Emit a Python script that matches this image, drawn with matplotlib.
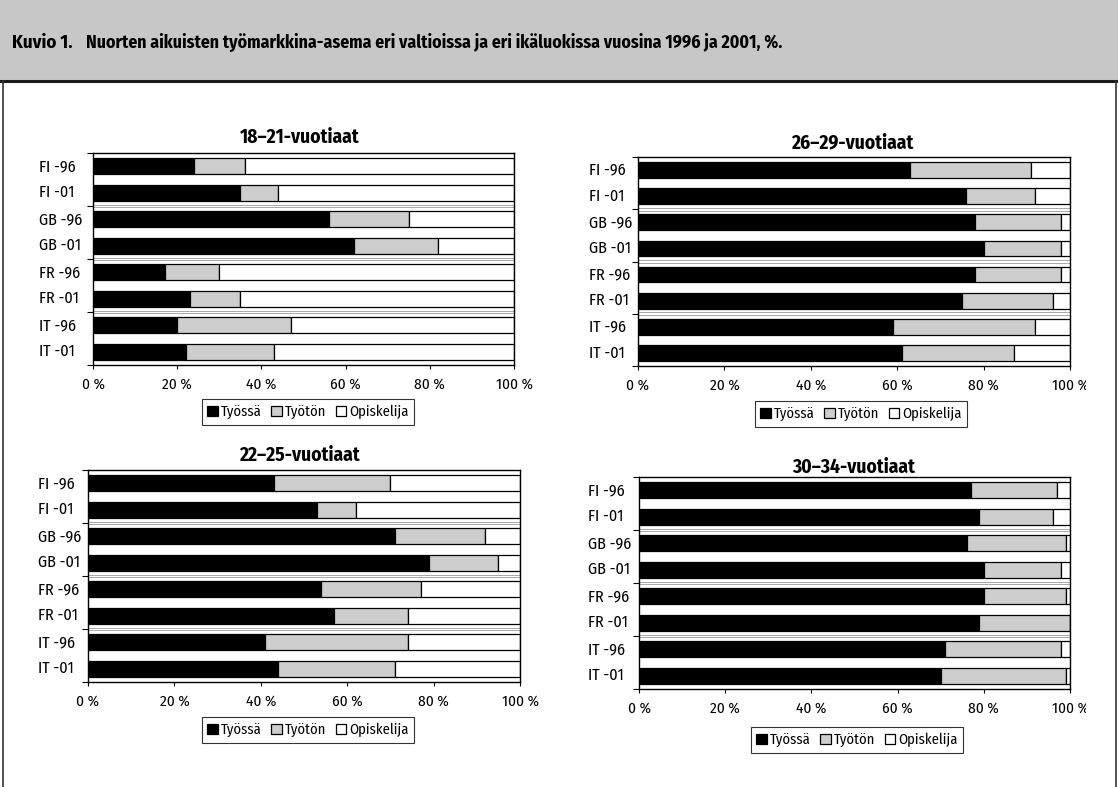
import matplotlib
matplotlib.use("Agg")
import matplotlib.pyplot as plt
from matplotlib import transforms
from matplotlib.patches import Rectangle
from matplotlib.lines import Line2D
from matplotlib.transforms import Bbox, TransformedBbox

plt.rcParams["font.family"] = ["Fira Sans Condensed", "DejaVu Sans"]

W, H = 1118, 787

rivit = ["FI -96", "FI -01", "GB -96", "GB -01", "FR -96", "FR -01", "IT -96", "IT -01"]
sarjat = ["Työssä", "Työtön", "Opiskelija"]
xtiks = [0, 20, 40, 60, 80, 100]
xtik_tekstit = ["0 %", "20 %", "40 %", "60 %", "80 %", "100 %"]

# 18-21-vuotiaat
tyossa_18_21 = [24, 35, 56, 62, 17, 23, 20, 22]
tyoton_18_21 = [12, 9, 19, 20, 13, 12, 27, 21]
opisk_18_21 = [64, 56, 25, 18, 70, 65, 53, 57]

# 22-25-vuotiaat
tyossa_22_25 = [43, 53, 71, 79, 54, 57, 41, 44]
tyoton_22_25 = [27, 9, 21, 16, 23, 17, 33, 27]
opisk_22_25 = [30, 38, 8, 5, 23, 26, 26, 29]

# 26-29-vuotiaat
tyossa_26_29 = [63, 76, 78, 80, 78, 75, 59, 61]
tyoton_26_29 = [28, 16, 20, 18, 20, 21, 33, 26]
opisk_26_29 = [9, 8, 2, 2, 2, 4, 8, 13]

# 30-34-vuotiaat
tyossa_30_34 = [77, 79, 76, 80, 80, 79, 71, 70]
tyoton_30_34 = [20, 17, 23, 18, 19, 21, 27, 29]
opisk_30_34 = [3, 4, 1, 2, 1, 0, 2, 1]

varit = ["black", "#cdcdcd", "white"]

fig = plt.figure(figsize=(W / 100, H / 100), dpi=100)


def px(x, y):
    # pikselit -> kuvan koordinaatit
    return x / W, 1 - y / H


# otsikkopalkki
fig.patches.append(Rectangle(px(0, 80), 1, 80 / H, transform=fig.transFigure,
                             facecolor="#c7c7c7", edgecolor="none", zorder=0))
fig.lines.append(Line2D([0, 1], [1 - 80.5 / H] * 2, transform=fig.transFigure,
                        color="#1a1a1a", lw=2.2))
fig.lines.append(Line2D([2.5 / W] * 2, [0, 1 - 81 / H], transform=fig.transFigure,
                        color="#333333", lw=1.2))
fig.lines.append(Line2D([1115.5 / W] * 2, [0, 1 - 81 / H], transform=fig.transFigure,
                        color="#333333", lw=1.2))
fig.text(*px(12, 43), "Kuvio 1.", fontsize=13.5, fontweight="bold", va="center")
fig.text(*px(86, 43),
         "Nuorten aikuisten työmarkkina-asema eri valtioissa ja eri ikäluokissa vuosina 1996 ja 2001, %.",
         fontsize=12.8, fontweight="bold", va="center")


def paneeli(vasen, oikea, yla, ala, otsikko, otsikko_y, otsikko_x, tekstit_x,
            legenda_x, legenda_y, tyossa, tyoton, opisk, leikkaa=False):
    x0, y0 = px(vasen, ala)
    x1, y1 = px(oikea, yla)
    ax = fig.add_axes([x0, y0, x1 - x0, y1 - y0])
    y = list(range(len(rivit)))
    vasen_reuna = [a + b for a, b in zip(tyossa, tyoton)]
    ax.barh(y, tyossa, height=0.6, color=varit[0], edgecolor="black", lw=0.9, label=sarjat[0])
    ax.barh(y, tyoton, left=tyossa, height=0.6, color=varit[1], edgecolor="black", lw=0.9,
            label=sarjat[1])
    ax.barh(y, opisk, left=vasen_reuna, height=0.6, color=varit[2], edgecolor="black", lw=0.9,
            label=sarjat[2])
    ax.set_xlim(0, 100)
    ax.set_ylim(7.5, -0.5)

    # maiden väliset erotinviivat
    for raja in [1.5, 3.5, 5.5]:
        for d in (-0.05, 0.05):
            ax.axhline(raja + d, color="#9a9a9a", lw=0.6, zorder=0.5)

    for s in ax.spines.values():
        s.set_linewidth(1.0)
        s.set_color("black")

    ax.set_xticks(xtiks)
    ax.set_xticklabels(xtik_tekstit, fontsize=11)
    ax.tick_params(axis="x", length=3, width=0.8, pad=6, direction="out")
    ax.set_yticks([])
    ax.set_yticks([-0.5, 1.5, 3.5, 5.5, 7.5], minor=True)
    ax.tick_params(axis="y", which="minor", length=4, width=0.8, direction="out")

    trans = transforms.blended_transform_factory(fig.transFigure, ax.transData)
    for i, r in enumerate(rivit):
        ax.text(tekstit_x / W, i, r, transform=trans, ha="left", va="center", fontsize=11.5)

    fig.text(*px(otsikko_x, otsikko_y), otsikko, ha="center", va="center",
             fontsize=14, fontweight="bold")

    leg = fig.legend(*ax.get_legend_handles_labels(), loc="center",
                     bbox_to_anchor=px(legenda_x, legenda_y), ncol=3, fontsize=10.5,
                     frameon=True, fancybox=False, handlelength=0.7, handleheight=0.7,
                     handletextpad=0.2, columnspacing=0.7, borderpad=0.4,
                     borderaxespad=0)
    leg.get_frame().set_edgecolor("black")
    leg.get_frame().set_linewidth(0.8)

    if leikkaa:
        # oikean reunan 100 % -teksti jää osittain kuvan ulkopuolelle
        raja = TransformedBbox(Bbox([[0, 0], [1086 / W, 1]]), fig.transFigure)
        for t in ax.get_xticklabels():
            t.set_clip_on(True)
            t.set_clip_box(raja)
    return ax


paneeli(93, 514, 153, 365, "18–21-vuotiaat", 137, 300, 39, 308, 412,
        tyossa_18_21, tyoton_18_21, opisk_18_21)
paneeli(638, 1070, 157, 366, "26–29-vuotiaat", 143, 853, 589, 861, 414,
        tyossa_26_29, tyoton_26_29, opisk_26_29, leikkaa=True)
paneeli(88, 520, 470, 682, "22–25-vuotiaat", 455, 300, 38, 308, 730,
        tyossa_22_25, tyoton_22_25, opisk_22_25)
paneeli(639, 1070, 477, 689, "30–34-vuotiaat", 467, 854, 588, 857, 740,
        tyossa_30_34, tyoton_30_34, opisk_30_34, leikkaa=True)

fig.savefig("out.png", dpi=100)
